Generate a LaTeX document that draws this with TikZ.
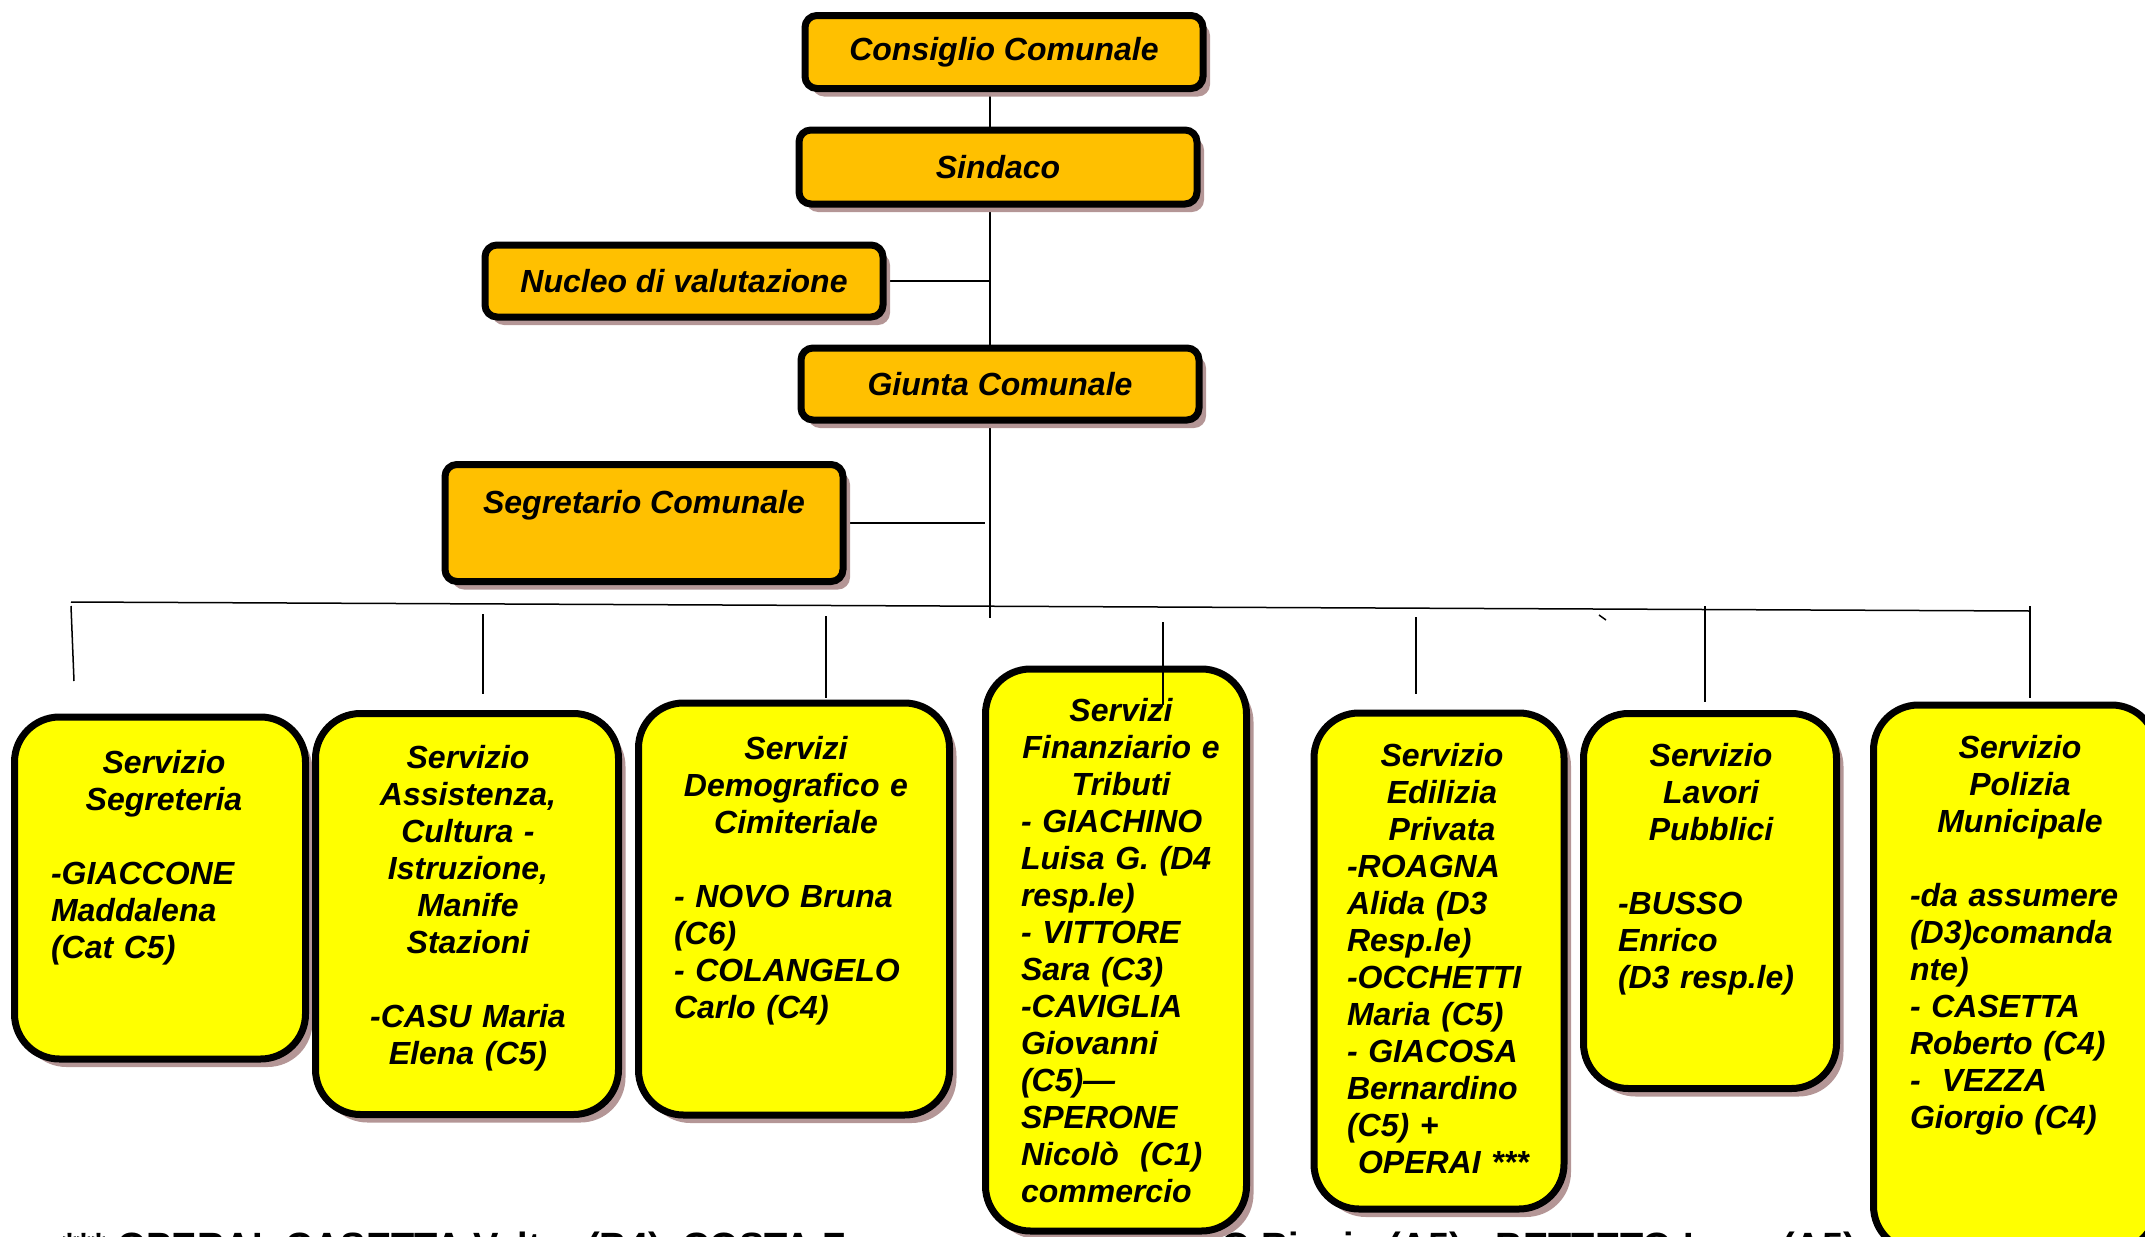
\documentclass[tikz,border=0pt]{standalone}
\usepackage{fontspec}
\setmainfont{Liberation Sans}
\usetikzlibrary{shadows,backgrounds}

\definecolor{arancio}{RGB}{255,192,0}
\definecolor{giallo}{RGB}{255,255,0}
\definecolor{ombra}{RGB}{180,150,150}

\tikzset{
  filo/.style={line width=1.5pt},
  ombreggiato/.style={drop shadow={shadow xshift=7pt, shadow yshift=-8pt, opacity=1, fill=ombra}},
  vertice/.style={draw, line width=7pt, rounded corners=12pt, fill=arancio, ombreggiato,
    minimum width=398pt, align=center,
    font=\bfseries\itshape\fontsize{32}{37}\selectfont},
  servizio/.style={draw, line width=7pt, rounded corners=45pt, fill=giallo, ombreggiato},
  testo/.style={anchor=north, inner sep=0pt,
    font=\bfseries\itshape\fontsize{32}{37}\selectfont}
}

\begin{document}
\begin{tikzpicture}[x=1pt,y=-1pt]
  \useasboundingbox (0,0) rectangle (2145,1237);

  % nota operai (in fondo, sotto i riquadri)
  \path (62,1232) node[anchor=north west, inner sep=0pt, font=\bfseries\fontsize{38}{44}\selectfont] (operai)
    {***  OPERAI:  CASETTA Valter (B4),  COSTA Francesco (A5), BERTO Biagio (A5)  -  BETTETO Luca (A5)};

  % vertici
  \path (1004,52) node[vertice, minimum height=73pt] (consiglio) {Consiglio Comunale};
  \path (998,167) node[vertice, minimum height=74pt] (sindaco) {Sindaco};
  \path (684,281) node[vertice, minimum height=72pt] (nucleo) {Nucleo di valutazione};
  \path (1000,384) node[vertice, minimum height=72pt] (giunta) {Giunta Comunale};
  \path (644,523) node[vertice, minimum height=117pt] (segretario) {Segretario Comunale\\[6pt] \mbox{}};

  \begin{scope}[on background layer]
    \coordinate (asse) at (990,0);
    \coordinate (nodo) at (990,618);
    \draw[filo] (asse |- consiglio.south) -- (asse |- sindaco.north);
    \draw[filo] (asse |- sindaco.south) -- (nodo);
    \draw[filo] (nucleo.east) -- (asse |- nucleo.east);
    \draw[filo] (segretario.east) -- ([xshift=-5pt]asse |- segretario.east);
  \end{scope}

  % servizi
  \path (160,888) node[servizio, minimum width=291pt, minimum height=342pt] (segreteria) {};
  \path (164,750) node[testo, text width=226pt] (segreteria-t)
    {\centering Servizio\\ Segreteria\\ \mbox{}\par\raggedright -GIACCONE\\ Maddalena\\ (Cat C5)\par};

  \path (467,914) node[servizio, minimum width=303pt, minimum height=401pt] (assistenza) {};
  \path (468,745) node[testo, text width=280pt] (assistenza-t)
    {\centering Servizio\\ Assistenza,\\ Cultura -\\ Istruzione,\\ Manife\\ Stazioni\\ \mbox{}\\ -CASU Maria\\ Elena (C5)\par};

  \path (794,909) node[servizio, minimum width=311pt, minimum height=412pt] (demografico) {};
  \path (796,736) node[testo, text width=244pt] (demografico-t)
    {\centering Servizi\\ Demografico e\\ Cimiteriale\\ \mbox{}\par\raggedright - NOVO Bruna\\ (C6)\\ - COLANGELO\\ Carlo (C4)\par};

  \path (1116,950) node[servizio, minimum width=261pt, minimum height=562pt] (finanziario) {};
  \path (1121,698) node[testo, text width=200pt] (finanziario-t)
    {\centering Servizi\\ Finanziario e\\ Tributi\par\raggedright - GIACHINO\\ Luisa G. (D4\\ resp.le)\\ - VITTORE\\ Sara (C3)\\ -CAVIGLIA\\ Giovanni\\ (C5)—\\ SPERONE\\ Nicolò\ \ (C1)\\ commercio\par};

  \path (1439,961) node[servizio, minimum width=250pt, minimum height=496pt] (edilizia) {};
  \path (1442,743) node[testo, text width=190pt] (edilizia-t)
    {\centering Servizio\\ Edilizia\\ Privata\par\raggedright -ROAGNA\\ Alida (D3\\ Resp.le)\\ -OCCHETTI\\ Maria (C5)\\ - GIACOSA\\ Bernardino\\ (C5) +\\ \hspace*{11pt}OPERAI ***\par};

  \path (1710,901) node[servizio, minimum width=253pt, minimum height=375pt] (lavori) {};
  \path (1711,743) node[testo, text width=186pt] (lavori-t)
    {\centering Servizio\\ Lavori\\ Pubblici\\ \mbox{}\par\raggedright -BUSSO\\ Enrico\\ (D3 resp.le)\par};

  \path (2015,978) node[servizio, minimum width=283pt, minimum height=546pt] (polizia) {};
  \path (2020,735) node[testo, text width=220pt] (polizia-t)
    {\centering Servizio\\ Polizia\\ Municipale\\ \mbox{}\par\raggedright -da assumere\\ (D3)comanda\\ nte)\\ - CASETTA\\ Roberto (C4)\\ -\ \ VEZZA\\ Giorgio (C4)\par};

  % linea orizzontale e discese
  \coordinate (bus-o) at (71,602);
  \coordinate (bus-e) at (2030,611);
  \draw[filo] (bus-o) -- (bus-e);
  \foreach \xa/\ya/\xb/\yb [count=\i] in {71/606/74/681, 483/614/483/694, 826/616/826/698,
      1163/622/1163/705, 1416/617/1416/694, 1705/606/1705/702, 2030/606/2030/698}
  {
    \coordinate (su\i) at (\xa,\ya);
    \coordinate (giu\i) at (\xb,\yb);
    \draw[filo] (su\i) -- (giu\i);
  }
  \coordinate (segno-a) at (1599,615);
  \coordinate (segno-b) at (1606,620);
  \draw[filo] (segno-a) -- (segno-b);
\end{tikzpicture}
\end{document}
